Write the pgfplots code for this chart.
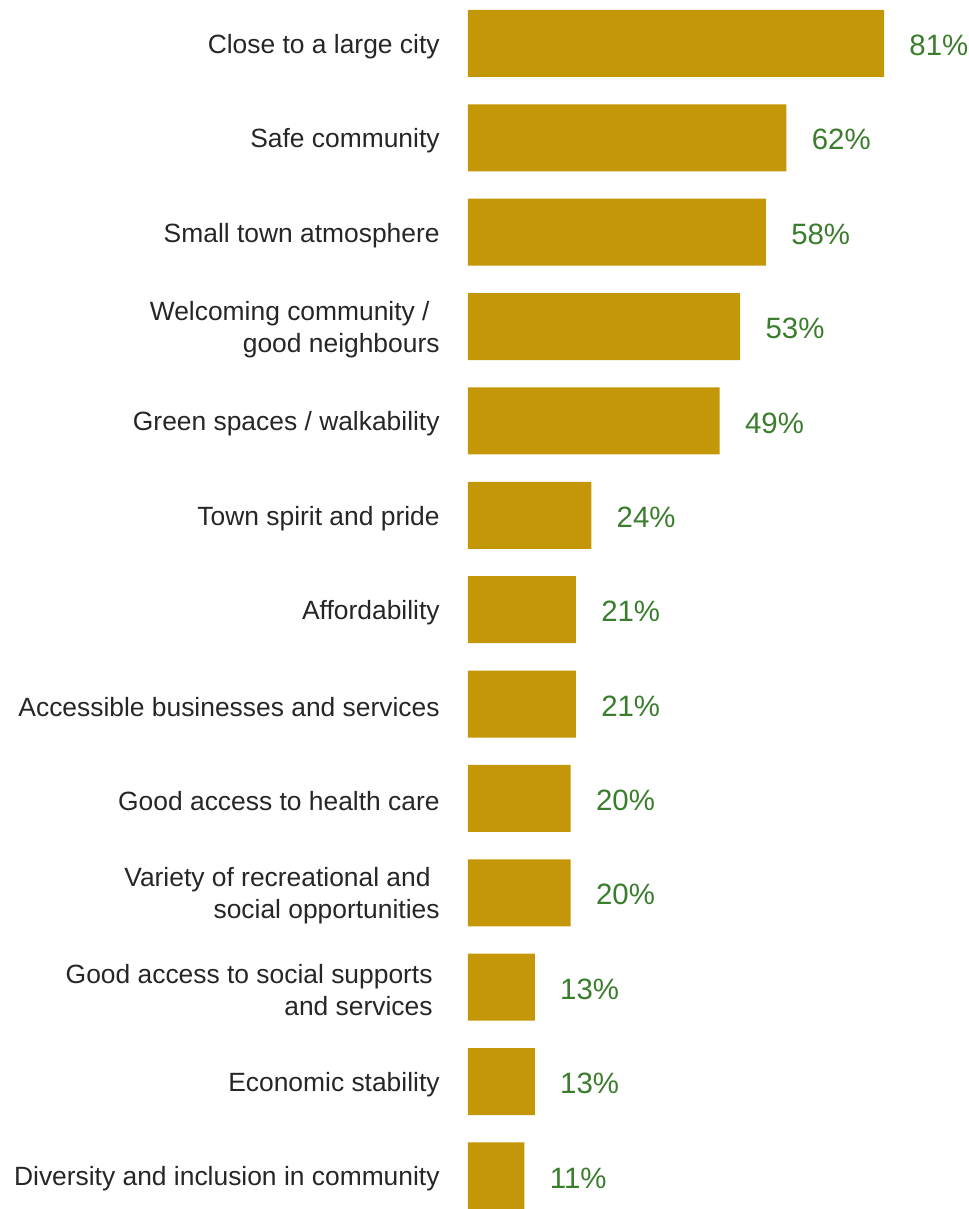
\documentclass[border=0pt]{standalone}
\usepackage{pgfplots}
\pgfplotsset{compat=1.18}
\usepackage{fontspec}
\setmainfont{Liberation Sans}
\definecolor{barc}{HTML}{C49708}
\definecolor{labc}{HTML}{3A7D2C}
\definecolor{txt}{HTML}{262626}
\begin{document}
\begin{tikzpicture}
\begin{axis}[
  xbar,
  scale only axis,
  width=259.5pt, height=604.5pt,
  xmin=0, xmax=101.05,
  ymin=-0.46, ymax=12.35,
  y dir=reverse,
  bar width=33.5pt,
  axis x line=none,
  axis y line*=left,
  y axis line style={draw=none},
  ytick style={draw=none},
  major tick length=0pt,
  /pgf/number format/assume math mode=true,
  ytick={0,...,12},
  yticklabels={
    Close to a large city,
    Safe community,
    Small town atmosphere,
    {Welcoming community /\rule{5pt}{0pt}\\good neighbours},
    Green spaces / walkability,
    Town spirit and pride,
    Affordability,
    Accessible businesses and services,
    Good access to health care,
    {Variety of recreational and\rule{4.5pt}{0pt}\\social opportunities},
    {Good access to social supports\rule{3.5pt}{0pt}\\and services\rule{3.5pt}{0pt}},
    Economic stability,
    Diversity and inclusion in community
  },
  yticklabel style={align=right, font=\fontsize{13.2}{16}\selectfont, text=txt, inner sep=0pt, xshift=-14pt, yshift=-1.5pt},
  point meta=x,
  nodes near coords={\pgfmathprintnumber{\pgfplotspointmeta}\%},
  nodes near coords style={anchor=west, inner sep=0pt, xshift=12.5pt, yshift=-1pt, text=labc, font=\fontsize{14.7}{16}\selectfont},
]
\addplot[fill=barc, draw=none] coordinates {
  (81,0) (62,1) (58,2) (53,3) (49,4) (24,5) (21,6) (21,7) (20,8) (20,9) (13,10) (13,11) (11,12)
};
\end{axis}
\path ([xshift=-234pt]current axis.south west);
\end{tikzpicture}
\end{document}
